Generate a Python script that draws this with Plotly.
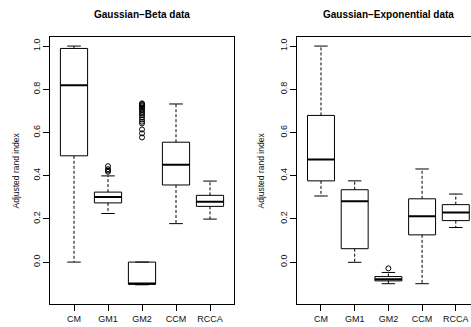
import plotly.graph_objects as go

categories = ["CM", "GM1", "GM2", "CCM", "RCCA"]
y_ticks = [0.0, 0.2, 0.4, 0.6, 0.8, 1.0]
y_ticktext = ["0.0", "0.2", "0.4", "0.6", "0.8", "1.0"]

# Gaussian-Beta data (five-number summaries)
beta_lower = [0.0, 0.225, -0.105, 0.178, 0.199]
beta_q1 = [0.492, 0.274, -0.103, 0.357, 0.258]
beta_med = [0.819, 0.301, -0.099, 0.451, 0.279]
beta_q3 = [0.989, 0.324, 0.0, 0.555, 0.309]
beta_upper = [1.0, 0.399, 0.0, 0.732, 0.375]
beta_out_cat = ["GM1"] * 4 + ["GM2"] * 17
beta_out_val = [0.444, 0.430, 0.424, 0.418,
                0.735, 0.731, 0.727, 0.722, 0.716, 0.710, 0.703, 0.695,
                0.688, 0.680, 0.670, 0.660, 0.650, 0.642, 0.614, 0.596, 0.577]

# Gaussian-Exponential data
exp_lower = [0.306, -0.001, -0.100, -0.100, 0.160]
exp_q1 = [0.376, 0.062, -0.087, 0.126, 0.192]
exp_med = [0.475, 0.282, -0.079, 0.212, 0.229]
exp_q3 = [0.679, 0.335, -0.067, 0.293, 0.266]
exp_upper = [1.0, 0.376, -0.048, 0.431, 0.315]
exp_out_cat = ["GM2"]
exp_out_val = [-0.029]

W, H = 471, 327
FONT = "Liberation Sans, Arial, Helvetica, sans-serif"
BOX_HW = 0.4
CAP_HW = 0.2

fig = go.Figure()


def add_boxes(lower, q1, med, q3, upper, out_cat, out_val, xa, ya):
    bx, by, wx, wy, cx, cy, mx, my = [], [], [], [], [], [], [], []
    for i in range(len(categories)):
        p = i + 1
        bx += [p - BOX_HW, p + BOX_HW, p + BOX_HW, p - BOX_HW, p - BOX_HW, None]
        by += [q1[i], q1[i], q3[i], q3[i], q1[i], None]
        wx += [p, p, None, p, p, None]
        wy += [q3[i], upper[i], None, q1[i], lower[i], None]
        cx += [p - CAP_HW, p + CAP_HW, None, p - CAP_HW, p + CAP_HW, None]
        cy += [upper[i], upper[i], None, lower[i], lower[i], None]
        mx += [p - BOX_HW, p + BOX_HW, None]
        my += [med[i], med[i], None]
    common = dict(mode="lines", xaxis=xa, yaxis=ya, showlegend=False, hoverinfo="skip")
    fig.add_trace(go.Scatter(x=wx, y=wy, line=dict(color="black", width=1, dash="3px,2px"), **common))
    fig.add_trace(go.Scatter(x=cx, y=cy, line=dict(color="black", width=1), **common))
    fig.add_trace(go.Scatter(x=bx, y=by, line=dict(color="black", width=1), **common))
    fig.add_trace(go.Scatter(x=mx, y=my, line=dict(color="black", width=2), **common))
    ox = [categories.index(c) + 1 for c in out_cat]
    fig.add_trace(go.Scatter(x=ox, y=out_val, mode="markers", xaxis=xa, yaxis=ya,
                             marker=dict(symbol="circle-open", size=5, color="black",
                                         line=dict(width=1, color="black")),
                             showlegend=False, hoverinfo="skip"))


add_boxes(beta_lower, beta_q1, beta_med, beta_q3, beta_upper, beta_out_cat, beta_out_val, "x", "y")
add_boxes(exp_lower, exp_q1, exp_med, exp_q3, exp_upper, exp_out_cat, exp_out_val, "x2", "y2")

# geometry (pixels)
L1, R1 = 50.2, 233.8
L2 = 297.4
SP2 = 33.7
TOP, BOT = 37.0, 304.0
yd = [1 - BOT / H, 1 - TOP / H]
yr = [-0.194, 1.042]

axis_common = dict(showgrid=False, zeroline=False, showline=True, linecolor="black", linewidth=1,
                   ticks="outside", ticklen=6, tickwidth=1, tickcolor="black",
                   tickfont=dict(family=FONT, size=9, color="#111111"))

fig.update_layout(
    width=W, height=H, margin=dict(l=0, r=0, t=0, b=0),
    paper_bgcolor="white", plot_bgcolor="white",
    xaxis=dict(domain=[L1 / W, R1 / W], range=[0.3, 5.7], tickvals=[1, 2, 3, 4, 5],
               ticktext=categories, mirror=True, anchor="y", **axis_common),
    yaxis=dict(domain=yd, range=yr, tickvals=y_ticks, ticktext=y_ticktext, tickangle=-90,
               mirror=True, anchor="x", **axis_common),
    xaxis2=dict(domain=[L2 / W, 1.0], range=[0.3, 0.3 + (W - L2) / SP2], tickvals=[1, 2, 3, 4, 5],
                ticktext=categories, mirror=True, anchor="y2", **axis_common),
    yaxis2=dict(domain=yd, range=yr, tickvals=y_ticks, ticktext=y_ticktext, tickangle=-90,
                mirror=False, anchor="x2", **axis_common),
)

ann_font = dict(family=FONT, size=8.5, color="#111111")
fig.add_annotation(text="<b>Gaussian−Beta data</b>", x=142 / W, y=1 - 15 / H, xref="paper", yref="paper",
                   showarrow=False, xanchor="center", yanchor="middle",
                   font=dict(family=FONT, size=10, color="black"))
fig.add_annotation(text="<b>Gaussian−Exponential data</b>", x=388 / W, y=1 - 15 / H, xref="paper",
                   yref="paper", showarrow=False, xanchor="center", yanchor="middle",
                   font=dict(family=FONT, size=10, color="black"))
fig.add_annotation(text="Adjusted rand index", x=15 / W, y=1 - 170.5 / H, xref="paper", yref="paper",
                   showarrow=False, textangle=-90, xanchor="center", yanchor="middle", font=ann_font)
fig.add_annotation(text="Adjusted rand index", x=260 / W, y=1 - 170.5 / H, xref="paper", yref="paper",
                   showarrow=False, textangle=-90, xanchor="center", yanchor="middle", font=ann_font)

fig.write_html("out.html")
